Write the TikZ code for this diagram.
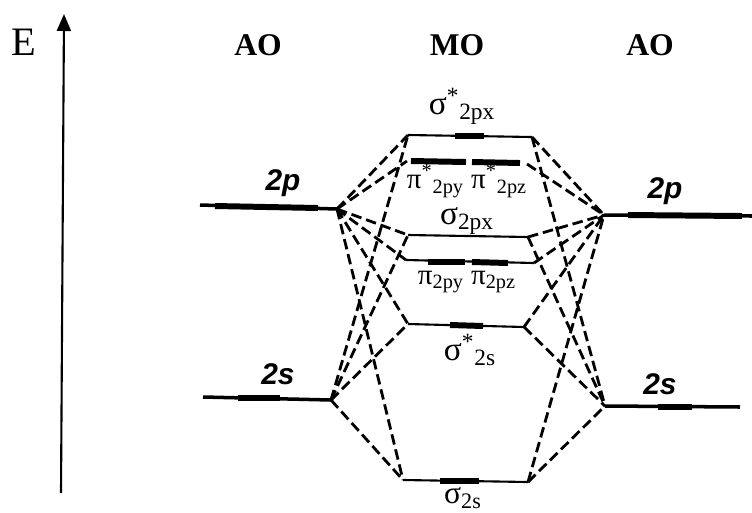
\documentclass[tikz,border=0pt]{standalone}
\usepackage{fontspec}
\setmainfont{Liberation Serif}
\setsansfont{Liberation Sans}
\usepackage{tikz}
\usetikzlibrary{arrows.meta}

\begin{document}
\begin{tikzpicture}[x=0.02cm,y=-0.02cm,
  lvl/.style={line width=1.2pt},
  bar/.style={line width=3.4pt},
  ao/.style={line width=2pt},
  corr/.style={line width=1.6pt,dash pattern=on 6pt off 2.8pt},
  lab/.style={inner sep=0pt,font=\fontsize{19}{21}\selectfont},
  pilab/.style={inner sep=0pt,font=\fontsize{16.5}{18}\selectfont},
  hd/.style={inner sep=0pt,font=\fontsize{18}{20}\selectfont\bfseries},
  orb/.style={inner sep=0pt,font=\fontsize{17}{19}\selectfont\sffamily\bfseries\itshape},
  >={Triangle[length=3.4mm,width=2.8mm]}]
  \useasboundingbox (0,0) rectangle (752,512);
  % energy axis
  \coordinate (ax0) at (61,493); \coordinate (ax1) at (64,14);
  \draw[->,line width=1.2pt] (ax0) -- (ax1);
  \node[inner sep=0pt,font=\fontsize{23}{25}\selectfont] (E) at (24,42) {E};
  \node[hd] (aol) at (258,45) {AO};
  \node[hd] (mo) at (457,45) {MO};
  \node[hd] (aor) at (650,45) {AO};
  % atomic levels
  \coordinate (pL0) at (200,205); \coordinate (pL) at (337,209);
  \coordinate (pR) at (604,215); \coordinate (pR0) at (752,216);
  \coordinate (sL0) at (203,397); \coordinate (sL) at (331,400);
  \coordinate (sR) at (605,406); \coordinate (sR0) at (740,407);
  \draw[ao] (pL0) -- (pL); \draw[ao] (pR) -- (pR0);
  \draw[ao] (sL0) -- (sL); \draw[ao] (sR) -- (sR0);
  \draw[bar] (215,206) -- (318,208); \draw[bar] (628,215) -- (742,216);
  \draw[bar] (238,398) -- (280,398); \draw[bar] (658,407) -- (692,407);
  % molecular levels
  \coordinate (a1) at (408,135); \coordinate (a2) at (532,137); % sigma* 2px
  \coordinate (b1) at (407,161); \coordinate (b2) at (527,164); % pi* 2p
  \coordinate (c1) at (408,235); \coordinate (c2) at (528,237); % sigma 2px
  \coordinate (d1) at (406,260); \coordinate (d2) at (534,263); % pi 2p
  \coordinate (e1) at (408,324); \coordinate (e2) at (524,327); % sigma* 2s
  \coordinate (f1) at (403,480); \coordinate (f2) at (528,482); % sigma 2s
  \foreach \m in {a,c,d,e,f} \draw[lvl] (\m1) -- (\m2);
  \draw[bar] (411,161) -- (466,162); \draw[bar] (472,162) -- (520,163);
  \draw[bar] (455,136) -- (484,136);
  \draw[bar] (428,262) -- (465,262); \draw[bar] (472,262) -- (508,263);
  \draw[bar] (450,325) -- (483,326);
  \draw[bar] (440,481) -- (479,481);
  % correlation lines
  \foreach \m in {a,b,c,d,e,f} {
    \draw[corr] (pL) -- (\m1);
    \draw[corr] (\m2) -- (pR);
  }
  \foreach \m in {a,c,e,f} {
    \draw[corr] (sL) -- (\m1);
    \draw[corr] (\m2) -- (sR);
  }
  % labels
  \node[lab] (la) at (462,106) {σ\textsuperscript{*}\textsubscript{2px}};
  \node[pilab] (lb) at (467,181) {π\textsuperscript{*}\textsubscript{2py} π\textsuperscript{*}\textsubscript{2pz}};
  \node[lab] (lc) at (467,221) {σ\textsubscript{2px}};
  \node[pilab] (ld) at (467,282) {π\textsubscript{2py} π\textsubscript{2pz}};
  \node[lab] (le) at (470,350) {σ\textsuperscript{*}\textsubscript{2s}};
  \node[lab,font=\fontsize{18}{20}\selectfont] (lf) at (463,498) {σ\textsubscript{2s}};
  \node[orb] (pl) at (283,183) {2p};
  \node[orb] (pr) at (665,191) {2p};
  \node[orb] (sl) at (278,374) {2s};
  \node[orb] (sr) at (660,384) {2s};
\end{tikzpicture}
\end{document}
